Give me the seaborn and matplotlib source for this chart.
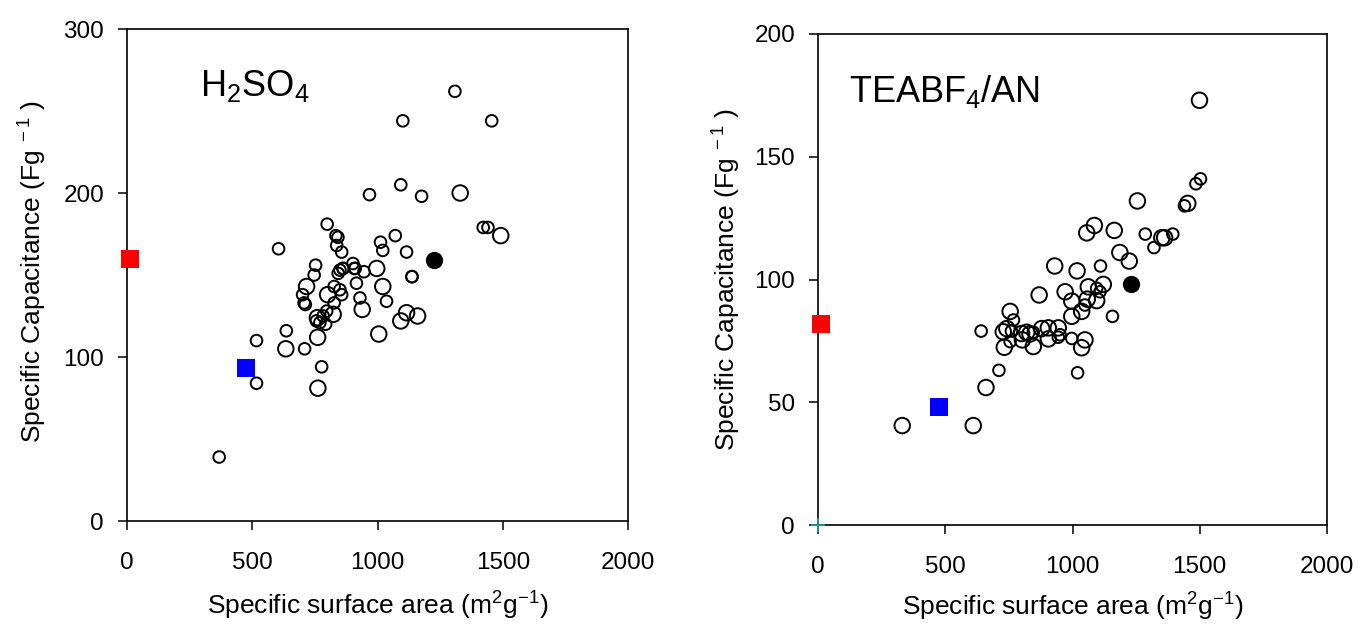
import matplotlib
matplotlib.use("Agg")
import matplotlib.pyplot as plt
import seaborn as sns
import pandas as pd

# ---------------- data ----------------
# H2SO4 panel: open circles (x = surface area, y = capacitance, size class)
h2so4_x = [1309, 1101, 1456, 1093, 968, 1176, 1330, 1422, 1441, 1492,
           799, 834, 842, 837, 857, 605, 1012, 1021, 1071, 1116,
           1137, 753, 747, 717, 701, 707, 712, 843, 863, 907,
           902, 911, 862, 850, 946, 997, 916, 1021, 1138, 827,
           850, 857, 801, 827, 930, 1036, 939, 823, 797, 760,
           770, 783, 793, 756, 1116, 1093, 1160, 1005, 761, 636,
           634, 709, 517, 517, 777, 762, 368]
h2so4_y = [262, 244, 244, 205, 199, 198, 200, 179, 179, 174,
           181, 174, 173, 168, 164, 166, 170, 165, 174, 164,
           149, 156, 150, 143, 138, 133, 132, 151, 154, 154,
           157, 154, 154, 153, 152, 154, 145, 143, 149, 143,
           141, 138, 138, 133, 136, 134, 129, 126, 128, 124,
           121, 125, 120, 122, 127, 122, 125, 114, 112, 116,
           105, 105, 110, 84, 94, 81, 39]
h2so4_size = ["s", "s", "s", "s", "s", "s", "L", "s", "s", "L",
              "s", "s", "s", "s", "s", "s", "s", "s", "s", "s",
              "s", "s", "s", "L", "s", "s", "s", "s", "s", "s",
              "s", "s", "s", "s", "s", "L", "s", "L", "s", "s",
              "s", "s", "L", "s", "s", "s", "L", "L", "s", "L",
              "s", "s", "s", "s", "L", "L", "L", "L", "L", "s",
              "L", "s", "s", "s", "s", "L", "s"]

# TEABF4/AN panel
teabf4_x = [1499, 1485, 1503, 1440, 1453, 1255, 1056, 1086, 1164, 1286,
            1320, 1351, 1362, 1394, 1186, 1223, 1110, 930, 1018, 1121,
            1062, 1095, 1108, 971, 869, 1058, 1095, 997, 1049, 1036,
            997, 1157, 755, 768, 728, 742, 760, 641, 800, 820,
            833, 846, 879, 905, 944, 951, 732, 755, 803, 846,
            905, 944, 997, 1049, 1036, 711, 1020, 660, 331, 610]
teabf4_y = [173, 139, 141, 130, 131, 132, 119, 122, 120, 118.5,
            113, 117, 117, 118.5, 111, 107.5, 105.5, 105.5, 103.5, 98,
            97, 96.4, 95, 95, 93.7, 92, 91.4, 91.2, 89.6, 87,
            85, 85, 87, 83.5, 78.7, 80, 79, 79, 78, 78.5,
            77.8, 78.5, 80, 80.3, 80.3, 77.5, 72.4, 74.7, 75.4, 72.7,
            75.8, 76.5, 76, 75.4, 72.2, 63, 62, 56, 40.5, 40.5]
teabf4_size = ["L", "s", "s", "s", "L", "L", "L", "L", "L", "s",
               "s", "L", "L", "s", "L", "L", "s", "L", "L", "L",
               "L", "s", "s", "L", "L", "L", "L", "L", "s", "L",
               "L", "s", "L", "s", "L", "L", "s", "s", "L", "L",
               "L", "s", "L", "L", "L", "s", "L", "s", "L", "L",
               "L", "s", "s", "L", "L", "s", "s", "L", "L", "L"]

# highlighted reference materials (x, y) per panel
black_x = [1226, 1228]
black_y = [159, 98]
red_x = [10, 10]
red_y = [160, 82]
blue_x = [474, 474]
blue_y = [93, 48]
origin_x = [0]
origin_y = [0]

panel_titles = ["H$_2$SO$_4$", "TEABF$_4$/AN"]
y_limits = [(0, 300), (0, 200)]
y_ticks = [[0, 100, 200, 300], [0, 50, 100, 150, 200]]
x_ticks = [0, 500, 1000, 1500, 2000]
x_label = "Specific surface area (m$^2$g$^{-1}$)"
y_label = "Specific Capacitance (Fg$^{\\ -1}$ )"

# ---------------- style ----------------
sns.set_style("ticks")
plt.rcParams["font.family"] = ["Liberation Sans", "DejaVu Sans"]
plt.rcParams["mathtext.fontset"] = "custom"
plt.rcParams["mathtext.rm"] = "Liberation Sans"
plt.rcParams["mathtext.it"] = "Liberation Sans:italic"
plt.rcParams["mathtext.bf"] = "Liberation Sans:bold"
plt.rcParams["text.color"] = "black"
plt.rcParams["axes.labelcolor"] = "black"

fig = plt.figure(figsize=(13.69, 6.35), dpi=100)
ax1 = fig.add_axes([127 / 1369, 1 - 521 / 635, 501 / 1369, 492 / 635])
ax2 = fig.add_axes([818 / 1369, 1 - 525 / 635, 509 / 1369, 491 / 635])

sizes = {"s": 70, "L": 125}
panels = [
    (ax1, h2so4_x, h2so4_y, h2so4_size),
    (ax2, teabf4_x, teabf4_y, teabf4_size),
]
ylabel_pos = [(-0.1876, 0.508), (-0.179, 0.5)]
xlabel_pos = [(0.5, -0.173), (0.5, -0.167)]

for i, (ax, xs, ys, szs) in enumerate(panels):
    df = pd.DataFrame({"area": xs, "cap": ys, "sz": szs})
    sns.scatterplot(data=df, x="area", y="cap", size="sz", sizes=sizes,
                    facecolors="none", edgecolors="black", linewidth=1.4,
                    legend=False, ax=ax, clip_on=False, zorder=3)
    sns.scatterplot(x=[black_x[i]], y=[black_y[i]], color="black", s=155,
                    edgecolor="black", linewidth=0, ax=ax, zorder=4, clip_on=False)
    sns.scatterplot(x=[red_x[i]], y=[red_y[i]], color="#ff0000", marker="s",
                    s=170, linewidth=0, ax=ax, zorder=4, clip_on=False)
    sns.scatterplot(x=[blue_x[i]], y=[blue_y[i]], color="#0000ff", marker="s",
                    s=170, linewidth=0, ax=ax, zorder=4, clip_on=False)
    if i == 1:
        sns.scatterplot(x=origin_x, y=origin_y, color="#2a8c8c", marker="+",
                        s=90, linewidth=1.5, ax=ax, zorder=5, clip_on=False)

    ax.set_xlim(0, 2000)
    ax.set_ylim(*y_limits[i])
    ax.set_xticks(x_ticks)
    ax.set_yticks(y_ticks[i])
    for sp in ax.spines.values():
        sp.set_linewidth(1.2)
        sp.set_color("black")
    ax.tick_params(axis="both", direction="out", length=6.5, width=1.1,
                   labelsize=17.5, colors="black")
    ax.tick_params(axis="x", pad=16)
    ax.tick_params(axis="y", pad=10)
    ax.set_xlabel(x_label, fontsize=19, va="center")
    ax.set_ylabel(y_label, fontsize=19, va="center")
    ax.xaxis.set_label_coords(*xlabel_pos[i])
    ax.yaxis.set_label_coords(*ylabel_pos[i])
    ax.text(0.145 if i == 0 else 0.06, 0.92, panel_titles[i],
            transform=ax.transAxes, fontsize=26, va="top", ha="left")

fig.savefig("out.png", dpi=100, facecolor="white")
